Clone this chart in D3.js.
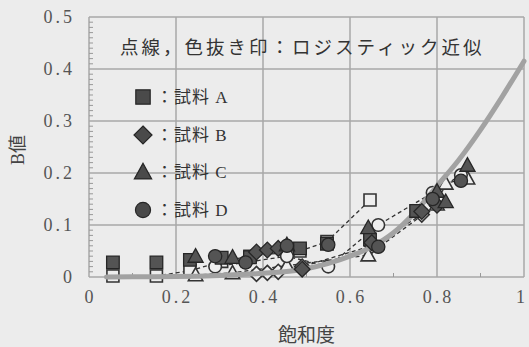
<!DOCTYPE html>
<html><head><meta charset="utf-8">
<script src="https://cdn.jsdelivr.net/npm/d3@7"></script>
<style>
html,body{margin:0;padding:0;background:#ececec;}
svg{display:block;}
</style></head><body>
<svg id="chart" width="529" height="347"></svg>
<script>
// axis ticks
const xTicks = [0, 0.2, 0.4, 0.6, 0.8, 1];
const yTicks = [0, 0.1, 0.2, 0.3, 0.4, 0.5];
const xTickLabels = ["0", "0.2", "0.4", "0.6", "0.8", "1"];
const yTickLabels = ["0", "0.1", "0.2", "0.3", "0.4", "0.5"];
const sampleNames = ["：試料 A", "：試料 B", "：試料 C", "：試料 D"];

// sample A (square): saturation, measured B, logistic B
const satA  = [0.055, 0.155, 0.232, 0.305, 0.37, 0.485, 0.547, 0.646, 0.752];
const measA = [0.028, 0.028, 0.033, 0.037, 0.038, 0.055, 0.064, 0.072, 0.127];
const fitA  = [0.002, 0.002, 0.012, 0.030, 0.040, 0.050, 0.068, 0.148, null];

// sample B (diamond)
const satB  = [0.385, 0.41, 0.435, 0.49, 0.65, 0.765, 0.80];
const measB = [0.048, 0.052, 0.055, 0.015, 0.066, 0.126, 0.138];
const fitB  = [0.006, 0.008, 0.010, 0.020, 0.060, 0.120, 0.150];

// sample C (triangle)
const satC  = [0.245, 0.33, 0.455, 0.642, 0.80, 0.82, 0.87];
const measC = [0.040, 0.038, 0.062, 0.095, 0.165, 0.145, 0.215];
const fitC  = [0.004, 0.008, 0.022, 0.042, 0.140, 0.180, 0.190];

// sample D (circle)
const satD  = [0.29, 0.36, 0.455, 0.55, 0.665, 0.79, 0.855];
const measD = [0.040, 0.028, 0.060, 0.062, 0.058, 0.150, 0.185];
const fitD  = [0.020, 0.028, 0.040, 0.020, 0.100, 0.162, 0.196];

// overall logistic curve
const curveSat = [0.04, 0.1, 0.2, 0.3, 0.4, 0.5, 0.6, 0.65, 0.7, 0.75, 0.8, 0.85, 0.9, 0.95, 1.0];
const curveB   = [0.0, 0.0005, 0.001, 0.003, 0.007, 0.016, 0.040, 0.058, 0.085, 0.125, 0.175, 0.225, 0.283, 0.347, 0.415];

const svg = d3.select("#chart");
const W = 529, H = 347;
const m = {left: 89, right: 5, top: 17, bottom: 70};
const x = d3.scaleLinear().domain([0, 1]).range([m.left, W - m.right]);
const y = d3.scaleLinear().domain([0, 0.5]).range([H - m.bottom, m.top]);

svg.append("rect").attr("width", W).attr("height", H).attr("fill", "#ececec");

const grid = svg.append("g");
grid.selectAll(".gy").data(yTicks).join("line")
  .attr("x1", x(0)).attr("x2", x(1)).attr("y1", d => y(d)).attr("y2", d => y(d))
  .attr("stroke", "#a9a9a9").attr("stroke-width", 1.5);
grid.selectAll(".gx").data(xTicks).join("line")
  .attr("y1", y(0)).attr("y2", y(0.5)).attr("x1", d => x(d)).attr("x2", d => x(d))
  .attr("stroke", "#a9a9a9").attr("stroke-width", 1.5);

// minor ticks
const yMinor = d3.range(1, 50).filter(i => i % 10 !== 0).map(i => i / 100);
grid.selectAll(".my").data(yMinor).join("line")
  .attr("x1", x(0)).attr("x2", x(0) + 4).attr("y1", d => y(d)).attr("y2", d => y(d))
  .attr("stroke", "#999").attr("stroke-width", 1);
const xMinor = [0.1, 0.3, 0.5, 0.7, 0.9];
grid.selectAll(".mx").data(xMinor).join("line")
  .attr("x1", d => x(d)).attr("x2", d => x(d)).attr("y1", y(0)).attr("y2", y(0) - 4)
  .attr("stroke", "#999").attr("stroke-width", 1);

// tick labels
const tickFont = "'Liberation Serif', 'DejaVu Serif', serif";
svg.selectAll(".yl").data(yTicks).join("text")
  .attr("x", 75).attr("y", d => y(d)).attr("dy", "0.35em")
  .attr("text-anchor", "end").attr("font-family", tickFont).attr("font-size", 18)
  .attr("letter-spacing", "3px").attr("fill", "#555")
  .text((d, i) => yTickLabels[i]);
svg.selectAll(".xl").data(xTicks).join("text")
  .attr("x", d => Math.min(x(d) + 1.5, 522)).attr("y", 297).attr("dy", "0.35em")
  .attr("text-anchor", "middle").attr("font-family", tickFont).attr("font-size", 18)
  .attr("letter-spacing", "3px").attr("fill", "#555")
  .text((d, i) => xTickLabels[i]);

// axis titles
svg.append("text").attr("transform", "translate(24,150) rotate(-90)")
  .attr("text-anchor", "middle").attr("font-family", "'Liberation Serif','Noto Sans CJK JP'")
  .attr("font-size", 18).attr("fill", "#444").text("B値");
svg.append("text").attr("x", x(0.5)).attr("y", 335).attr("dy", "0.35em")
  .attr("text-anchor", "middle").attr("font-family", "'Noto Sans CJK JP'")
  .attr("font-size", 19).attr("fill", "#444").text("飽和度");

// marker shapes
function markerPath(shape, s) {
  const p = d3.path();
  if (shape === "square") { p.rect(-s, -s, 2 * s, 2 * s); }
  else if (shape === "diamond") { const r = s * 1.25; p.moveTo(0, -r); p.lineTo(r, 0); p.lineTo(0, r); p.lineTo(-r, 0); p.closePath(); }
  else if (shape === "triangle") { const r = s * 1.2; p.moveTo(0, -r); p.lineTo(r, r * 0.8); p.lineTo(-r, r * 0.8); p.closePath(); }
  else { p.arc(0, 0, s * 1.05, 0, 2 * Math.PI); }
  return p.toString();
}

const samples = [
  {shape: "square", sat: satA, meas: measA, fit: fitA},
  {shape: "diamond", sat: satB, meas: measB, fit: fitB},
  {shape: "triangle", sat: satC, meas: measC, fit: fitC},
  {shape: "circle", sat: satD, meas: measD, fit: fitD}
];

const plot = svg.append("g");
const dashLine = d3.line().defined(d => d[1] != null).x(d => x(d[0])).y(d => y(d[1]));

samples.forEach(s => {
  const pts = s.sat.map((v, i) => [v, s.fit[i]]);
  plot.append("path").attr("d", dashLine(pts)).attr("fill", "none")
    .attr("stroke", "#333").attr("stroke-width", 1.3).attr("stroke-dasharray", "4,3");
});

// logistic (open) markers
samples.forEach(s => {
  plot.append("g").selectAll("path").data(s.sat.map((v, i) => [v, s.fit[i]]).filter(d => d[1] != null))
    .join("path").attr("d", markerPath(s.shape, 6))
    .attr("transform", d => `translate(${x(d[0])},${y(d[1])})`)
    .attr("fill", "#eeeeee").attr("stroke", "#333").attr("stroke-width", 1.6);
});

// overall curve
plot.append("path")
  .attr("d", d3.line().x(d => x(d[0])).y(d => y(d[1])).curve(d3.curveMonotoneX)(curveSat.map((v, i) => [v, curveB[i]])))
  .attr("fill", "none").attr("stroke", "#a2a2a2").attr("stroke-width", 5).attr("stroke-linecap", "round");

// measured (filled) markers
samples.forEach(s => {
  plot.append("g").selectAll("path").data(s.sat.map((v, i) => [v, s.meas[i]]))
    .join("path").attr("d", markerPath(s.shape, 6.3))
    .attr("transform", d => `translate(${x(d[0])},${y(d[1])})`)
    .attr("fill", "#545454").attr("stroke", "#262626").attr("stroke-width", 1.3);
});

// legend
const legendFont = "'Liberation Serif', 'Noto Sans CJK JP'";
const lg = svg.append("g");
lg.append("text").attr("x", 120).attr("y", 48).attr("dy", "0.35em")
  .attr("font-family", "'Noto Sans CJK JP'").attr("font-size", 18.5)
  .attr("letter-spacing", "3px").attr("fill", "#333")
  .text("点線，色抜き印：ロジスティック近似");
const legendY = [97, 135, 172, 210];
samples.forEach((s, i) => {
  lg.append("path").attr("d", markerPath(s.shape, 7.2))
    .attr("transform", `translate(143,${legendY[i]})`)
    .attr("fill", "#4a4a4a").attr("stroke", "#262626").attr("stroke-width", 1.2);
  lg.append("text").attr("x", 156).attr("y", legendY[i]).attr("dy", "0.35em")
    .attr("font-family", legendFont).attr("font-size", 17)
    .attr("letter-spacing", "1px").attr("fill", "#333").text(sampleNames[i]);
});
</script>
</body></html>
